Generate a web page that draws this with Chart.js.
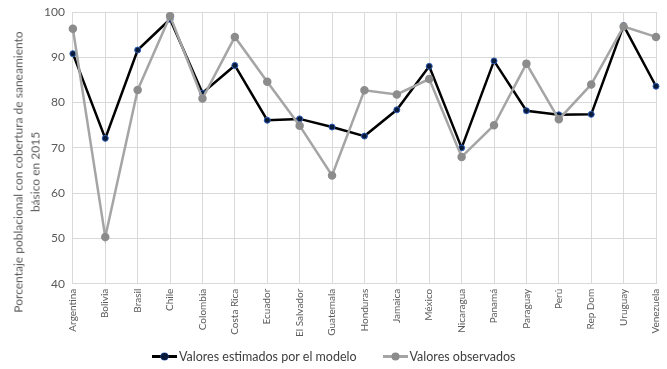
<!DOCTYPE html>
<html><head><meta charset="utf-8">
<script src="https://cdn.jsdelivr.net/npm/chart.js@4/dist/chart.umd.min.js"></script>
<style>
html,body{margin:0;padding:0;background:#fff}
#wrap{position:relative;width:667px;height:369px}
#legend{position:absolute;left:152px;top:349px;display:flex;align-items:center;font-family:Lato,'Open Sans',sans-serif;font-size:12.5px;color:#404040;white-space:nowrap}
.item{display:flex;align-items:center}
.mk{position:relative;width:25px;height:3px;margin-right:2px}
.mk i{position:absolute;left:9px;top:-2px;width:7px;height:7px;border-radius:50%}
#ytitle{position:absolute;left:27px;top:172px;width:320px;transform:translate(-50%,-50%) rotate(-90deg);text-align:center;font-family:Lato,'Open Sans',sans-serif;font-size:12px;line-height:16.5px;color:#595959;white-space:nowrap}
</style>
</head><body><div id="wrap"><canvas id="c"></canvas><div id="ytitle"></div><div id="legend"></div></div>
<script>
const categories = ["Argentina","Bolivia","Brasil","Chile","Colombia","Costa Rica","Ecuador","El Salvador","Guatemala","Honduras","Jamaica","México","Nicaragua","Panamá","Paraguay","Perú","Rep Dom","Uruguay","Venezuela"];
const modelValues = [90.8,72.1,91.6,98.4,82.1,88.2,76.1,76.4,74.6,72.6,78.4,88.0,70.0,89.2,78.2,77.3,77.4,97.0,83.6];
const observedValues = [96.3,50.3,82.8,99.1,80.9,94.5,84.6,74.9,63.9,82.7,81.8,85.2,68.0,75.0,88.6,76.3,84.0,96.8,94.5];
const yTicks = [40,50,60,70,80,90,100];
const seriesNames = ["Valores estimados por el modelo","Valores observados"];
const yTitleLines = ["Porcentaje poblacional con cobertura de saneamiento","básico en 2015"];

const FONT = "Lato, 'Open Sans', sans-serif";
const chart = new Chart(document.getElementById('c'), {
  type: 'line',
  data: {
    labels: categories,
    datasets: [
      {label: seriesNames[1], data: observedValues, borderColor: '#a5a5a5', backgroundColor: '#8c8c8c',
       pointBackgroundColor: '#8c8c8c', pointBorderColor: '#8c8c8c', borderWidth: 2.5, pointRadius: 3, tension: 0},
      {label: seriesNames[0], data: modelValues, borderColor: '#000000', backgroundColor: '#000000',
       pointBackgroundColor: '#0a1a3a', pointBorderColor: '#2f5fb5', pointBorderWidth: 1, borderWidth: 2.5, pointRadius: 3, tension: 0}
    ]
  },
  options: {
    responsive: true, maintainAspectRatio: false, animation: false,
    layout: {padding: {top: 12, right: 11, left: 36, bottom: 27}},
    plugins: {
      legend: {display: false},
      tooltip: {enabled: false}
    },
    scales: {
      x: {
        offset: false,
        afterFit: (s) => { s.paddingRight = 0; s.paddingLeft = 0; },
        grid: {color: '#d9d9d9', drawTicks: false},
        border: {display: false},
        ticks: {font: {family: FONT, size: 10}, color: '#595959', maxRotation: 90, minRotation: 90, padding: 5}
      },
      y: {
        min: 40, max: 100,
        afterFit: (s) => { s.paddingTop = 0; s.paddingBottom = 0; },
        afterBuildTicks: (s) => { s.ticks = yTicks.map(v => ({value: v})); },
        grid: {color: '#d9d9d9', drawTicks: false},
        border: {display: false},
        ticks: {font: {family: FONT, size: 12}, color: '#595959', padding: 8}
      }
    }
  }
});

// Y-axis title as real text
const yt = document.getElementById('ytitle');
yTitleLines.forEach(t => { const d = document.createElement('div'); d.textContent = t; yt.appendChild(d); });

// HTML legend built from the chart's datasets (model first, as in the reference)
const leg = document.getElementById('legend');
[1, 0].forEach((di, k) => {
  const ds = chart.data.datasets[di];
  const it = document.createElement('div');
  it.className = 'item';
  if (k > 0) it.style.marginLeft = '26px';
  const mk = document.createElement('span');
  mk.className = 'mk';
  mk.style.background = ds.borderColor;
  const dot = document.createElement('i');
  dot.style.background = ds.pointBackgroundColor;
  if (ds.pointBorderColor) dot.style.boxShadow = '0 0 0 0.5px ' + ds.pointBorderColor;
  mk.appendChild(dot);
  const tx = document.createElement('span');
  tx.textContent = ds.label;
  it.appendChild(mk); it.appendChild(tx);
  leg.appendChild(it);
});
</script></body></html>
